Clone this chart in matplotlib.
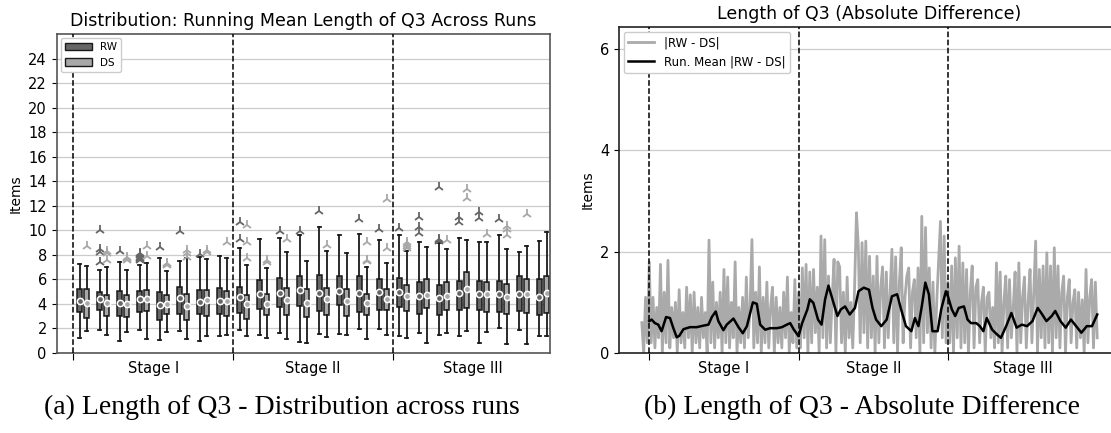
import matplotlib
matplotlib.use("Agg")
import matplotlib.pyplot as plt
from matplotlib.patches import Patch

# ---------------- data: left panel, one box per window (RW / DS) ----------------
rw_lo = [1.25, 1.85, 1.0, 1.88, 1.05, 1.77, 0.98, 1.39,
         1.86, 1.44, 1.6, 0.91, 1.51, 1.53, 1.97, 1.92,
         1.41, 1.6, 1.5, 1.38, 0.78, 2.06, 1.9, 1.38]
rw_q1 = [3.3, 3.5, 3.03, 3.3, 2.67, 3.2, 3.18, 3.14,
         3.29, 3.62, 3.72, 3.8, 3.46, 3.88, 3.37, 3.5,
         3.71, 3.2, 3.07, 3.48, 3.53, 3.32, 3.4, 3.09]
rw_mean = [4.24, 4.37, 4.1, 4.38, 3.9, 4.45, 4.14, 4.24,
           4.58, 4.81, 4.92, 5.12, 4.89, 5.02, 4.91, 4.94,
           4.94, 4.65, 4.51, 4.92, 4.84, 4.78, 4.82, 4.58]
rw_q3 = [5.24, 4.97, 5.02, 5.04, 4.96, 5.41, 5.14, 5.33,
         5.41, 5.94, 6.08, 6.28, 6.32, 6.28, 6.28, 6.07,
         6.12, 5.8, 5.52, 5.85, 5.9, 5.9, 6.25, 6.03]
rw_hi = [7.25, 6.8, 7.45, 7.16, 7.73, 7.48, 7.84, 7.9,
         8.52, 9.33, 9.34, 9.61, 10.26, 9.64, 9.72, 9.21,
         9.64, 9.06, 8.95, 9.34, 9.05, 9.65, 8.21, 9.16]
rw_fliers = [[], [10.0, 8.5, 8.25, 7.45], [8.35],
             [7.55, 7.65, 7.75, 7.85, 7.95, 8.05, 8.15], [8.67], [9.93], [8.1], [],
             [10.68, 9.29], [], [9.97], [9.97], [11.57], [], [10.89], [10.08],
             [10.19], [11.12, 10.3, 9.75], [9.1, 9.2, 9.3, 13.55], [11.07, 10.69],
             [11.47, 11.03], [10.92], [], []]

ds_lo = [1.77, 1.5, 1.68, 1.11, 1.7, 1.1, 1.41, 1.48,
         1.41, 1.24, 1.12, 0.85, 1.29, 1.44, 1.16, 1.44,
         1.26, 0.81, 1.65, 1.8, 1.72, 0.72, 0.7, 1.36]
ds_q1 = [2.88, 3.05, 2.94, 3.4, 3.14, 2.69, 3.02, 3.02,
         2.77, 3.11, 3.07, 2.94, 3.1, 3.05, 3.07, 3.48,
         3.45, 3.63, 3.52, 3.7, 3.35, 3.2, 3.29, 3.29]
ds_mean = [4.06, 4.04, 3.98, 4.38, 4.01, 3.86, 4.3, 4.24,
           3.99, 3.97, 4.32, 4.05, 4.43, 4.21, 4.05, 4.38,
           4.65, 4.7, 4.65, 5.19, 4.78, 4.58, 4.78, 4.92]
ds_q3 = [5.18, 4.75, 4.7, 5.14, 4.7, 4.78, 5.12, 5.07,
         4.7, 4.81, 5.33, 5.19, 5.33, 5.21, 4.82, 5.24,
         5.52, 6.0, 5.76, 6.58, 5.8, 5.6, 6.05, 6.25]
ds_hi = [7.05, 7.0, 6.74, 7.31, 6.72, 7.73, 7.62, 7.78,
         7.17, 6.95, 8.21, 7.48, 8.29, 8.18, 7.02, 7.3,
         8.35, 8.65, 8.5, 9.22, 9.05, 8.5, 8.72, 9.87]
ds_fliers = [[8.75], [8.35, 8.15, 7.6], [7.55, 7.65, 7.75, 7.85], [8.72, 7.9],
             [7.2, 7.28, 7.36], [8.4, 8.15, 7.8], [8.38, 8.24], [9.05],
             [10.45, 9.05, 7.78], [7.6, 7.42], [9.32], [], [8.8], [], [9.07, 7.6, 7.5],
             [12.55, 8.52],
             [8.55, 8.7, 8.85, 9.05], [], [9.22], [13.33, 12.6], [9.68],
             [10.38, 10.1, 9.65], [11.3], []]

stage_names = ["Stage I", "Stage II", "Stage III"]

# ---------------- data: right panel ----------------
# |RW - DS| per step, step -4 .. 240 (80 steps per stage)
diff_pre = [0.6, 0.0, 1.1, 0.2]
diff_stage1 = [1.8, 0.2, 1.1, 0.1, 0.9, 0.3, 1.75, 0.0, 1.2, 0.2, 1.83, 0.1, 0.9, 0.3, 1.0, 0.0, 1.25, 0.2, 0.8, 0.1,
               1.3, 0.3, 1.15, 0.0, 1.2, 0.2, 0.9, 0.1, 1.1, 0.3, 0.8, 0.0, 2.23, 0.2, 1.4, 0.1, 1.0, 0.3, 1.2, 0.0,
               1.65, 0.2, 1.5, 0.1, 1.0, 0.3, 1.8, 0.0, 0.9, 0.2, 1.1, 0.1, 1.5, 0.3, 0.9, 2.24, 0.1, 1.2, 0.2, 1.7,
               0.0, 1.1, 0.2, 1.4, 0.1, 0.9, 1.3, 0.0, 1.1, 0.2, 0.9, 0.1, 1.2, 0.3, 1.5, 0.0, 0.8, 0.2, 1.45, 0.1]
diff_stage2 = [1.2, 0.1, 1.68, 0.3, 1.75, 0.0, 1.6, 0.2, 1.65, 0.4, 1.3, 0.0, 2.31, 0.3, 2.24, 0.1, 1.52, 0.2, 1.1, 1.85,
               0.0, 1.8, 1.7, 0.2, 1.2, 0.0, 1.5, 0.3, 1.0, 0.1, 1.3, 2.77, 2.1, 0.2, 2.18, 0.4, 2.21, 0.1, 1.91, 0.3,
               1.52, 0.0, 1.91, 0.2, 1.3, 1.7, 0.1, 1.6, 0.3, 1.2, 2.05, 0.2, 1.9, 0.0, 1.4, 2.08, 0.2, 1.1, 1.52, 1.68,
               0.1, 1.2, 1.45, 0.3, 1.68, 0.0, 2.7, 0.2, 2.48, 0.4, 1.68, 0.1, 1.4, 0.0, 1.0, 1.78, 2.6, 0.3, 2.31, 0.2]
diff_stage3 = [1.4, 0.2, 1.72, 0.0, 1.88, 0.3, 2.11, 0.1, 1.78, 0.2, 1.65, 0.0, 1.2, 1.72, 0.1, 1.3, 1.45, 0.2, 1.0, 1.3,
               0.0, 1.1, 1.2, 0.3, 0.9, 0.1, 1.78, 0.2, 1.6, 0.0, 1.0, 1.52, 0.1, 1.45, 0.3, 0.9, 1.6, 0.0, 1.78, 0.2,
               1.1, 1.5, 0.1, 1.0, 1.65, 0.2, 1.2, 2.21, 0.0, 1.65, 0.3, 1.72, 0.1, 1.98, 0.2, 1.72, 0.0, 2.08, 0.3, 1.72,
               0.1, 1.2, 1.52, 0.0, 1.1, 1.45, 0.2, 1.0, 1.25, 0.1, 1.2, 0.3, 1.05, 0.0, 1.65, 0.2, 1.1, 1.45, 0.1, 1.4,
               0.3]

# running mean
mean_step = [0.0, 1.25, 3.0, 4.8, 6.6, 9.0, 11.1, 12.9, 14.7, 16.1, 18.3, 21.8, 25.4, 29.0, 31.7, 33.5, 35.6,
             37.0, 39.7, 41.5, 45.1, 47.8, 50.1, 52.3, 55.5, 57.6, 59.4, 62.1, 64.8, 68.4, 71.1, 73.7, 75.5,
             77.3, 80.0,
             81.9, 84.7, 86.0, 87.9, 90.4, 92.3, 94.2, 96.0, 97.9, 100.8, 102.6, 104.9, 107.4, 110.2, 112.1,
             114.9, 117.7, 119.6, 121.5, 124.3, 127.2, 130.0, 132.8, 134.7, 137.5, 140.4, 142.3, 144.2, 146.0,
             147.9, 149.8, 151.7, 154.5, 156.4, 158.9, 160.0,
             162.1, 163.9, 165.8, 168.6, 170.5, 172.4, 175.2, 177.1, 179.0, 180.8, 183.7, 186.5, 188.4, 191.2,
             194.0, 196.8, 199.6, 202.4, 205.3, 208.1, 210.0, 212.8, 215.6, 217.5, 220.3, 223.1, 225.9, 228.7,
             231.5, 234.4, 237.2, 240.0]
mean_val = [0.63, 0.66, 0.59, 0.56, 0.43, 0.71, 0.69, 0.49, 0.31, 0.34, 0.47, 0.51, 0.51, 0.54, 0.56, 0.71, 0.82,
            0.63, 0.45, 0.56, 0.68, 0.51, 0.39, 0.53, 1.0, 0.97, 0.56, 0.46, 0.49, 0.49, 0.51, 0.56, 0.59,
            0.47, 0.33,
            0.59, 0.86, 1.06, 0.99, 0.66, 0.56, 1.06, 1.33, 1.09, 0.73, 0.86, 0.92, 0.76, 0.89, 1.22,
            1.29, 1.25, 0.89, 0.66, 0.53, 0.66, 1.12, 1.16, 0.89, 0.53, 0.43, 0.69, 0.53, 0.92,
            1.39, 1.16, 0.43, 0.43, 0.86, 1.22, 1.12,
            0.86, 0.73, 0.89, 0.92, 0.66, 0.59, 0.59, 0.53, 0.43, 0.69, 0.46, 0.36, 0.30, 0.53,
            0.79, 0.50, 0.56, 0.53, 0.63, 0.89, 0.79, 0.63, 0.73, 0.83, 0.63, 0.50, 0.66, 0.53,
            0.40, 0.53, 0.53, 0.76]

RW_COLOR = "#666666"
DS_COLOR = "#a8a8a8"
GRID = "#cccccc"


def box_stats(lo, q1, mean, q3, hi, fliers):
    return [dict(med=m, mean=m, q1=a, q3=b, whislo=l, whishi=h, fliers=f)
            for l, a, m, b, h, f in zip(lo, q1, mean, q3, hi, fliers)]


def draw_boxes(ax, stats, pos, color):
    ax.bxp(stats, positions=pos, widths=0.24, patch_artist=True, showmeans=True,
           manage_ticks=False, capwidths=0.14,
           boxprops=dict(facecolor=color, edgecolor="#1a1a1a", linewidth=1.1),
           whiskerprops=dict(color="#1a1a1a", linewidth=1.3),
           capprops=dict(color="#1a1a1a", linewidth=1.3),
           medianprops=dict(linewidth=0),
           meanprops=dict(marker="o", markerfacecolor=color, markeredgecolor="white",
                          markersize=4.5, markeredgewidth=1.1),
           flierprops=dict(marker="2", color=color, markeredgecolor=color,
                           markersize=7.5, markeredgewidth=1.3))


def stage_axis(ax, width):
    bounds = [0, width, 2 * width]
    for b in bounds:
        ax.axvline(b, color="black", linestyle="--", linewidth=1.1, zorder=3)
    ax.set_xticks(bounds)
    ax.set_xticklabels([])
    ax.set_xticks([width / 2, 1.5 * width, 2.5 * width], minor=True)
    ax.set_xticklabels(stage_names, minor=True, fontsize=10.5)
    ax.tick_params(axis="x", which="minor", length=0, pad=6)
    ax.tick_params(axis="x", which="major", length=5)
    ax.tick_params(axis="y", labelsize=10.5)
    ax.yaxis.grid(True, color=GRID, linewidth=0.9)
    ax.set_axisbelow(True)


fig = plt.figure(figsize=(11.11, 4.33), dpi=100)

# ---- (a) distributions ----
ax1 = fig.add_axes([0.0509, 0.1848, 0.4442, 0.7367])
n = len(rw_mean)
centers = [k + 0.5 for k in range(n)]
draw_boxes(ax1, box_stats(rw_lo, rw_q1, rw_mean, rw_q3, rw_hi, rw_fliers),
           [c - 0.18 for c in centers], RW_COLOR)
draw_boxes(ax1, box_stats(ds_lo, ds_q1, ds_mean, ds_q3, ds_hi, ds_fliers),
           [c + 0.18 for c in centers], DS_COLOR)
stage_axis(ax1, 8)
ax1.set_xlim(-0.83, 23.85)
ax1.set_ylim(0, 26)
ax1.set_yticks(range(0, 25, 2))
ax1.set_ylabel("Items", fontsize=10)
ax1.set_title("Distribution: Running Mean Length of Q3 Across Runs", fontsize=12.5)
for s in ax1.spines.values():
    s.set_color("#555555")
    s.set_linewidth(1.2)
ax1.legend(handles=[Patch(facecolor=RW_COLOR, edgecolor="#1a1a1a", label="RW"),
                    Patch(facecolor=DS_COLOR, edgecolor="#1a1a1a", label="DS")],
           loc="upper left", fontsize=7.5, handlelength=2.6, handleheight=0.7,
           borderaxespad=0.4, framealpha=1)

# ---- (b) absolute difference ----
ax2 = fig.add_axes([0.5572, 0.1848, 0.4509, 0.7529])
diff = diff_pre + diff_stage1 + diff_stage2 + diff_stage3
steps = list(range(-len(diff_pre), len(diff) - len(diff_pre)))
ax2.plot(steps, diff, color="#aaaaaa", linewidth=2.0, label="|RW - DS|", zorder=2)
ax2.plot(mean_step, mean_val, color="black", linewidth=1.8, label="Run. Mean |RW - DS|", zorder=4)
stage_axis(ax2, 80)
ax2.set_xlim(-16.2, 252.2)
ax2.set_ylim(0, 6.44)
ax2.set_yticks([0, 2, 4, 6])
ax2.set_ylabel("Items", fontsize=10)
ax2.set_title("Length of Q3 (Absolute Difference)", fontsize=12.5)
for s in ax2.spines.values():
    s.set_color("#222222")
    s.set_linewidth(1.2)
ax2.legend(loc="upper left", fontsize=8.5, handlelength=2.2, borderaxespad=0.4, framealpha=1)

# captions
fig.text(0.254, 0.06, "(a) Length of Q3 - Distribution across runs",
         ha="center", va="center", fontsize=20, family="Liberation Serif")
fig.text(0.776, 0.06, "(b) Length of Q3 - Absolute Difference",
         ha="center", va="center", fontsize=20, family="Liberation Serif")

fig.savefig("out.png", dpi=100)
